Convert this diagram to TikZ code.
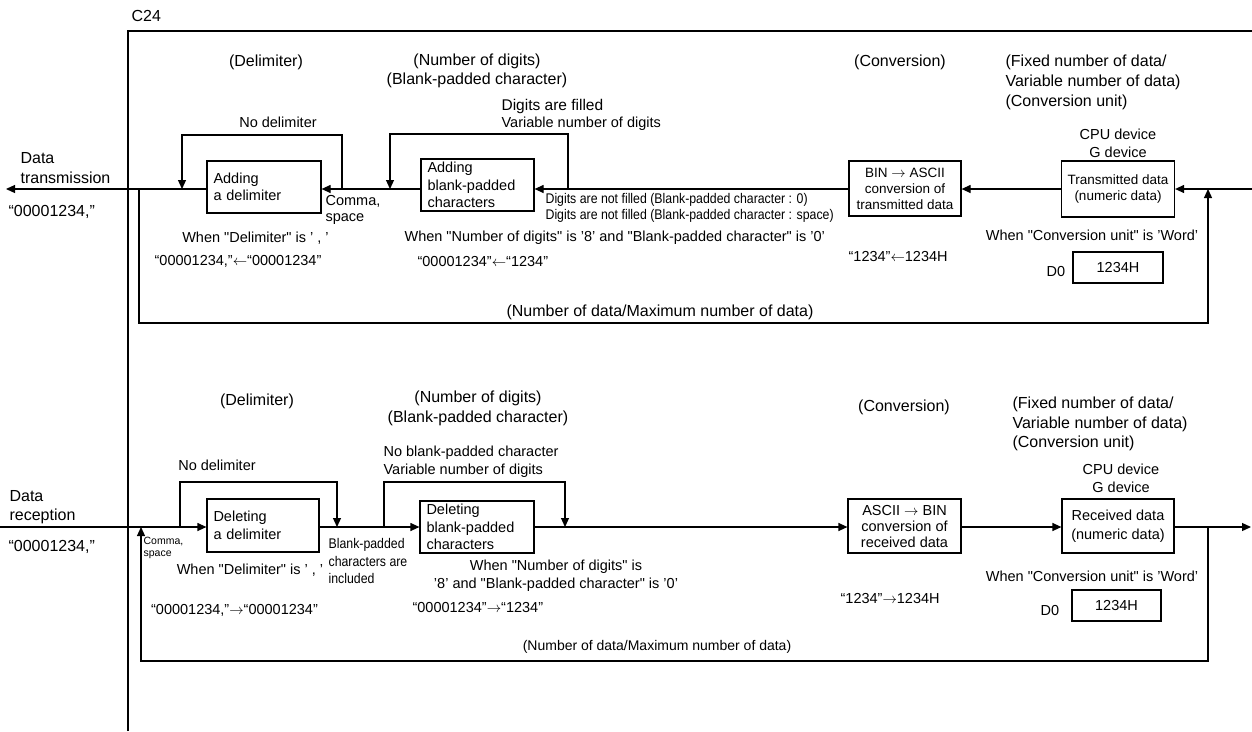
\documentclass[tikz,border=0pt]{standalone}
\usepackage{fontspec}
\setmainfont{Liberation Sans}
\newfontfamily\narrowfam[FakeStretch=0.88]{Liberation Sans}
\newfontfamily\plainq[Ligatures=TeXOff]{Liberation Sans}
\newcommand\dq{{\plainq"}}
\newcommand\lar{\ensuremath{\leftarrow}}
\newcommand\rar{\ensuremath{\rightarrow}}
\usetikzlibrary{arrows.meta}
\newcommand\ftA{\fontsize{16}{19.5}\selectfont}
\newcommand\ftB{\fontsize{14.5}{17.5}\selectfont}
\newcommand\ftC{\fontsize{10.5}{12.5}\selectfont}
\newcommand\ftN{\narrowfam\fontsize{14}{16}\selectfont}
\newcommand\ftT{\fontsize{13.5}{16}\selectfont}
\begin{document}
\begin{tikzpicture}[x=1pt,y=-1pt,line width=1.2pt,
  arr/.style={-{Triangle[length=9pt,width=8pt]}},
  txt/.style={inner sep=0pt},
  box/.style={draw,line width=1.2pt,inner sep=0pt},
  lbox/.style={box,align=left,inner xsep=6.5pt,font=\ftB},
  cbox/.style={box,align=center}]
\useasboundingbox (0,0) rectangle (1252,731);
% frame
\coordinate (fbl) at (128,731);
\coordinate (fcorner) at (128,31);
\coordinate (ftr) at (1252,31);
\draw (fbl) -- (fcorner) -- (ftr);
\node[txt,anchor=west,font=\ftA] (c24) at (131,16) {C24};

% ================= TOP: transmission =================
\node[txt,font=\ftA] (h1) at (266,62) {(Delimiter)};
\node[txt,font=\ftA,align=center] (h2) at (477,71) {(Number of digits)\\(Blank-padded character)};
\node[txt,font=\ftA] (h3) at (900,62) {(Conversion)};
\node[txt,font=\fontsize{16}{20}\selectfont,align=left,anchor=west] (h4) at (1005,82) {(Fixed number of data/\\Variable number of data)\\(Conversion unit)};
\node[txt,font=\ftB,align=center] (cpu1) at (1118,143.5) {CPU device\\G device};

\node[box,minimum width=113pt,minimum height=56pt,align=center,font=\ftT] (trans) at (1118,189) {Transmitted data\\(numeric data)};
\node[cbox,minimum width=112pt,minimum height=55pt,font=\ftT] (bin) at (905,188.5) {BIN \rar{} ASCII\\conversion of\\transmitted data};
\node[lbox,minimum width=113pt,minimum height=52pt,text width=100pt] (ablank) at (477.5,185) {Adding\\blank-padded\\characters};
\node[lbox,minimum width=114pt,minimum height=52pt,text width=101pt] (adel) at (264,187) {Adding\\a delimiter};

\coordinate (rin) at (1252,189);
\coordinate (tout) at (6,189);
\draw[arr] (rin) -- (rin -| trans.east);
\draw[arr] (trans.west) -- (trans.west -| bin.east);
\draw[arr] (bin.west |- rin) -- (ablank.east |- rin);
\draw[arr] (ablank.west |- rin) -- (adel.east |- rin);
\draw[arr] (adel.west |- rin) -- (tout);
% bypass loops
\coordinate (bl1) at (568,189);
\coordinate (bl2) at (390,189);
\draw[arr] (bl1) -- ++(0,-55) -| (bl2);
\coordinate (dl1) at (342,189);
\coordinate (dl2) at (182,189);
\draw[arr] (dl1) -- ++(0,-54) -| (dl2);
% return loop
\coordinate (rt1) at (139,189);
\coordinate (rt2) at (1208,189);
\draw[arr] (rt1) -- ++(0,134) -| (rt2);

\node[txt,anchor=west,font=\fontsize{15.5}{18}\selectfont] (dfill) at (501,106) {Digits are filled};
\node[txt,anchor=west,font=\ftB] (varnum) at (501,124) {Variable number of digits};
\node[txt,font=\ftB] (nodel) at (278,122) {No delimiter};
\node[txt,anchor=west,align=left,font=\fontsize{14.5}{16}\selectfont] (comma) at (325,209.5) {Comma,\\space};
\node[txt,anchor=west,align=left,font=\ftN] (notfill) at (545,207.5) {Digits are not filled (Blank-padded character : 0)\\Digits are not filled (Blank-padded character : space)};
\node[txt,font=\ftB] (wdel) at (255.5,238) {When \dq Delimiter\dq{} is ' , '};
\node[txt,font=\ftB] (ex1) at (238,261) {“00001234,”\lar“00001234”};
\node[txt,anchor=west,font=\ftB] (wdig) at (404,238) {When \dq Number of digits\dq{} is '8' and \dq Blank-padded character\dq{} is '0'};
\node[txt,anchor=west,font=\ftB] (ex2) at (417,262) {“00001234”\lar“1234”};
\node[txt,anchor=west,font=\ftB] (ex3) at (848,257) {“1234”\lar1234H};
\node[txt,font=\ftB] (wconv) at (1092,235) {When \dq Conversion unit\dq{} is 'Word'};
\node[txt,font=\ftB] (d0a) at (1056,272) {D0};
\node[box,minimum width=90pt,minimum height=31pt,font=\ftB] (rega) at (1118,267.5) {1234H};
\node[txt,font=\ftA] (numa) at (660,312) {(Number of data/Maximum number of data)};
\node[txt,anchor=west,align=left,font=\fontsize{16}{20}\selectfont] (dtx) at (20,168) {Data\\transmission};
\node[txt,anchor=west,font=\ftA] (strt) at (8,212) {“00001234,”};

% ================= BOTTOM: reception =================
\node[txt,font=\ftA] (g1) at (257,401) {(Delimiter)};
\node[txt,font=\ftA,align=center] (g2) at (478,408.5) {(Number of digits)\\(Blank-padded character)};
\node[txt,font=\ftA] (g3) at (904,407) {(Conversion)};
\node[txt,font=\ftA,align=left,anchor=west] (g4) at (1012,424) {(Fixed number of data/\\Variable number of data)\\(Conversion unit)};
\node[txt,font=\ftB,align=center] (cpu2) at (1121,478.5) {CPU device\\G device};

\node[lbox,minimum width=112pt,minimum height=53pt,text width=99pt] (ddel) at (263,525.5) {Deleting\\a delimiter};
\node[lbox,minimum width=114pt,minimum height=52pt,text width=101pt,inner xsep=5pt] (dblank) at (477,527) {Deleting\\blank-padded\\characters};
\node[cbox,minimum width=113pt,minimum height=54pt,font=\fontsize{14.5}{16}\selectfont] (ascii) at (904.5,526) {ASCII \rar{} BIN\\conversion of\\received data};
\node[cbox,minimum width=112pt,minimum height=54pt,font=\fontsize{14.5}{19}\selectfont] (recv) at (1118,526) {Received data\\(numeric data)};

\coordinate (lin) at (0,527);
\coordinate (rout) at (1251,527);
\draw[arr] (lin) -- (lin -| ddel.west);
\draw[arr] (ddel.east |- lin) -- (dblank.west |- lin);
\draw[arr] (dblank.east |- lin) -- (ascii.west |- lin);
\draw[arr] (ascii.east |- lin) -- (recv.west |- lin);
\draw[arr] (recv.east |- lin) -- (rout);
% bypass loops
\coordinate (bd1) at (180,527);
\coordinate (bd2) at (337,527);
\draw[arr] (bd1) -- ++(0,-45) -| (bd2);
\coordinate (bb1) at (384,527);
\coordinate (bb2) at (565,527);
\draw[arr] (bb1) -- ++(0,-45) -| (bb2);
% return loop
\coordinate (br1) at (1208,527);
\coordinate (br2) at (141,527);
\draw[arr] (br1) -- ++(0,134) -| (br2);

\node[txt,font=\ftB] (nodel2) at (217,465) {No delimiter};
\node[txt,anchor=west,align=left,font=\fontsize{14.5}{18}\selectfont] (noblank) at (383,462) {No blank-padded character\\Variable number of digits};
\node[txt,anchor=west,align=left,font=\ftC] (comma2) at (143,548) {Comma,\\space};
\node[txt,anchor=west,align=left,font=\narrowfam\fontsize{14}{17.5}\selectfont] (incl) at (328,561) {Blank-padded\\characters are\\included};
\node[txt,font=\ftB] (wdel2) at (250,570) {When \dq Delimiter\dq{} is ' , '};
\node[txt,font=\ftB] (ex4) at (234.5,610) {“00001234,”\rar“00001234”};
\node[txt,font=\ftB,align=center] (wdig2) at (556,575.5) {When \dq Number of digits\dq{} is\\'8' and \dq Blank-padded character\dq{} is '0'};
\node[txt,anchor=west,font=\ftB] (ex5) at (412,607) {“00001234”\rar“1234”};
\node[txt,anchor=west,font=\ftB] (ex6) at (840,598) {“1234”\rar1234H};
\node[txt,font=\ftB] (wconv2) at (1092,576) {When \dq Conversion unit\dq{} is 'Word'};
\node[txt,font=\ftB] (d0b) at (1050,610) {D0};
\node[box,minimum width=89pt,minimum height=31pt,font=\ftB] (regb) at (1116.5,605.5) {1234H};
\node[txt,font=\fontsize{14}{17}\selectfont] (numb) at (657,647) {(Number of data/Maximum number of data)};
\node[txt,anchor=west,align=left,font=\fontsize{16}{19}\selectfont] (drx) at (9,507.5) {Data\\reception};
\node[txt,anchor=west,font=\ftA] (strr) at (8,547) {“00001234,”};
\end{tikzpicture}
\end{document}
